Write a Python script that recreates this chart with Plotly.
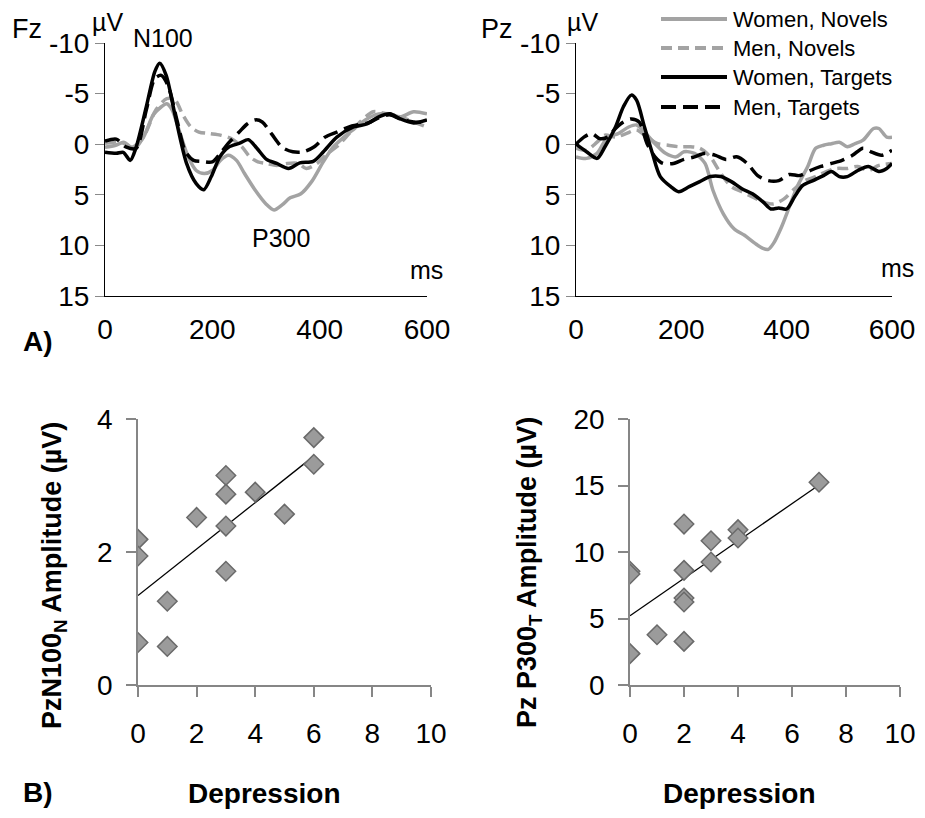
import numpy as np
import plotly.graph_objects as go

# page has an 8px body margin: figure is drawn 8px in from the top-left of the window
OFF = 8
FW, FH = 917, 802
FONT = "Liberation Sans, Arial, sans-serif"

# ---------------- ERP data (ms, µV) ----------------
fz_wt_t = [0,21,34,47,58,77,93,102,114,130,152,170,184,198,214,230,251,267,283,301,320,342,363,388,407,432,463,488,510,531,550,575,600]
fz_wt_v = [0.8,0.9,0.8,1.6,0.3,-3.7,-7.2,-8.0,-6.8,-3.0,1.9,3.9,4.5,3.2,1.25,0.3,-0.1,-0.45,0.4,1.5,1.9,2.4,1.85,1.7,0.75,-0.7,-1.7,-2.0,-2.7,-3.0,-2.5,-2.1,-2.4]

fz_mt_t = [0,21,40,58,77,93,105,118,134,150,165,180,200,215,230,250,265,280,293,310,330,350,370,390,410,432,460,490,510,530,550,575,600]
fz_mt_v = [-0.3,-0.5,0.3,0.4,-3.4,-6.5,-6.8,-5.7,-2.4,0.75,1.6,1.7,1.75,0.9,-0.1,-1.2,-2.0,-2.4,-2.2,-1.05,0.3,0.75,0.75,0.25,-0.7,-1.2,-1.8,-2.1,-2.6,-2.9,-2.5,-2.2,-2.2]

fz_wn_t = [0,20,35,50,70,90,105,115,125,140,155,170,185,200,215,230,245,260,280,300,315,330,345,365,385,405,425,445,465,485,510,530,550,575,600]
fz_wn_v = [0.3,0.1,-0.2,0.3,-0.55,-2.9,-3.7,-4.0,-3.4,-1.05,1.25,2.6,2.9,2.6,1.6,1.1,1.6,2.9,4.55,5.9,6.5,6.0,5.3,4.9,3.7,1.9,0.3,-0.7,-1.55,-2.4,-3.0,-3.0,-2.7,-3.2,-3.0]

fz_mn_t = [0,30,55,75,95,115,130,145,160,175,195,215,235,255,270,285,300,320,340,360,375,395,415,435,455,475,500,525,550,575,600]
fz_mn_v = [-0.1,-0.2,0.4,-1.05,-3.4,-4.5,-4.4,-2.9,-1.7,-1.2,-1.05,-0.9,-0.55,0.25,1.25,1.75,1.9,2.1,1.9,1.9,2.4,1.9,0.9,0.1,-1.05,-2.2,-3.2,-3.0,-2.7,-2.2,-1.7]

pz_wt_t = [0,20,40,55,75,90,105,115,130,145,160,180,195,215,235,255,275,295,315,335,355,370,385,400,415,430,450,470,485,500,515,535,555,575,590,600]
pz_wt_v = [0,0.75,1.4,0.25,-1.7,-3.7,-4.85,-4.35,-1.7,0.9,3.2,4.2,4.7,4.2,3.7,3.2,3.2,3.7,4.4,4.9,5.7,6.4,6.3,6.4,5.2,4.1,3.6,3.1,2.7,3.2,3.2,2.6,2.2,2.7,2.4,1.9]

pz_mt_t = [0,15,30,45,60,75,90,105,120,135,150,165,185,205,225,245,265,285,305,325,345,365,385,405,425,445,465,485,505,525,545,560,580,600]
pz_mt_v = [0,-0.7,-1.05,-0.55,-0.7,-1.55,-2.2,-2.5,-2.2,-0.05,1.25,1.9,1.9,1.5,1.25,0.9,1.1,1.5,1.25,1.9,3.1,3.6,3.6,3.0,3.1,2.6,2.2,1.9,1.6,1.1,0.4,0.75,1.1,0.6]

pz_wn_t = [0,20,40,60,80,100,115,130,150,170,190,205,225,245,260,280,300,320,340,355,365,375,390,405,420,440,455,470,485,500,515,530,545,565,575,590,600]
pz_wn_v = [1.25,1.4,0.9,-0.7,-1.05,-1.7,-1.9,-1.2,-0.05,0.9,1.25,0.75,0.9,1.9,4.55,6.9,8.35,9.0,9.8,10.3,10.4,9.8,8.2,6.2,4.2,2.2,0.4,0.1,-0.05,-0.2,0.25,-0.05,-0.4,-1.55,-1.55,-0.7,-0.7]

pz_mn_t = [0,20,40,55,75,95,115,135,155,175,195,215,235,255,275,295,315,335,355,375,395,415,435,455,475,495,515,535,555,575,600]
pz_mn_v = [0.4,0.6,-0.2,-0.9,-0.7,-1.05,-1.4,-0.7,-0.05,0.1,0.25,0.25,0.4,1.25,2.9,4.2,4.7,5.2,5.7,5.9,5.4,4.4,3.6,3.2,2.7,2.4,2.4,2.2,2.6,2.1,1.9]

erp_ticks = [-10, -5, 0, 5, 10, 15]
erp_ticktext = ["-10", "-5", "0", "5", "10", "15"]
ms_ticks = [0, 200, 400, 600]

series_names = ["Women, Novels", "Men, Novels", "Women, Targets", "Men, Targets"]

# ---------------- Scatter data ----------------
n100_dep = [0,0,0,1,1,2,3,3,3,3,4,5,6,6]
n100_amp = [2.19,1.94,0.64,1.26,0.58,2.52,3.15,2.87,2.39,1.71,2.90,2.57,3.72,3.32]
p300_dep = [0,0,0,1,2,2,2,2,2,3,3,4,4,7]
p300_amp = [8.55,8.35,2.36,3.78,12.1,8.62,6.54,6.24,3.28,10.85,9.25,11.68,11.05,15.24]
dep_ticks = [0,2,4,6,8,10]

# ---------------- styles ----------------
GRAY = "#a3a3a3"
styles = {
    "Women, Novels": dict(color=GRAY, width=3.5, dash="solid"),
    "Men, Novels": dict(color=GRAY, width=3.5, dash="11px,6px"),
    "Women, Targets": dict(color="black", width=3.5, dash="solid"),
    "Men, Targets": dict(color="black", width=3.5, dash="15px,7px"),
}

fig = go.Figure()

fz = {"Women, Novels": (fz_wn_t, fz_wn_v), "Men, Novels": (fz_mn_t, fz_mn_v),
      "Women, Targets": (fz_wt_t, fz_wt_v), "Men, Targets": (fz_mt_t, fz_mt_v)}
pz = {"Women, Novels": (pz_wn_t, pz_wn_v), "Men, Novels": (pz_mn_t, pz_mn_v),
      "Women, Targets": (pz_wt_t, pz_wt_v), "Men, Targets": (pz_mt_t, pz_mt_v)}

for name in series_names:
    t, v = fz[name]
    fig.add_trace(go.Scatter(x=t, y=v, mode="lines", name=name, showlegend=False,
                             line=dict(shape="spline", smoothing=0.8, **styles[name]),
                             xaxis="x", yaxis="y"))
for name in series_names:
    t, v = pz[name]
    fig.add_trace(go.Scatter(x=t, y=v, mode="lines", name=name, showlegend=False,
                             line=dict(shape="spline", smoothing=0.8, **styles[name]),
                             xaxis="x2", yaxis="y2"))

def add_scatter(dep, amp, xa, ya):
    slope, inter = np.polyfit(dep, amp, 1)
    xs = np.array([min(dep), max(dep)], dtype=float)
    fig.add_trace(go.Scatter(x=xs, y=inter + slope * xs, mode="lines", showlegend=False,
                             line=dict(color="black", width=1.3), xaxis=xa, yaxis=ya))
    fig.add_trace(go.Scatter(x=dep, y=amp, mode="markers", showlegend=False,
                             marker=dict(symbol="diamond", size=15, color="#9b9b9b",
                                         line=dict(color="#6a6a6a", width=1.5)),
                             xaxis=xa, yaxis=ya))

add_scatter(n100_dep, n100_amp, "x3", "y3")
add_scatter(p300_dep, p300_amp, "x4", "y4")

# window pixel -> paper fraction
def px(x):
    return (x - OFF) / FW

def py(y):
    return 1 - (y - OFF) / FH

def xdom(a, b):
    return [px(a), px(b)]

def ydom(top, bottom):
    return [py(bottom), py(top)]

tickfont = dict(family=FONT, size=28, color="black")

erp_x = dict(range=[0, 600], tickvals=ms_ticks, ticks="", showline=True, linecolor="black",
             linewidth=1, showgrid=False, zeroline=False, tickfont=tickfont,
             ticklabelstandoff=8, automargin=False)
erp_y = dict(range=[15, -10], tickvals=erp_ticks, ticktext=erp_ticktext, ticks="outside",
             ticklen=9, tickcolor="#8a8a8a", tickwidth=1.2, showline=True, linecolor="black",
             linewidth=1, showgrid=False, zeroline=False, tickfont=tickfont, automargin=False)

sc_x = dict(range=[0, 10], tickvals=dep_ticks, ticks="outside", ticklen=10, tickcolor="#868686",
            tickwidth=1.5, showline=True, linecolor="#868686", linewidth=1.5, showgrid=False,
            zeroline=False, tickfont=tickfont, ticklabelstandoff=13, automargin=False)
sc_y = dict(ticks="outside", ticklen=10, tickcolor="#868686", tickwidth=1.5, showline=True,
            linecolor="#868686", linewidth=1.5, showgrid=False, zeroline=False,
            tickfont=tickfont, ticklabelstandoff=8, automargin=False)

fig.update_layout(
    width=FW, height=FH, autosize=False,
    margin=dict(l=0, r=0, t=0, b=0, autoexpand=False),
    paper_bgcolor="white", plot_bgcolor="white",
    font=dict(family=FONT, color="black"),
    xaxis=dict(domain=xdom(105, 427), anchor="y", **erp_x),
    yaxis=dict(domain=ydom(43, 296), anchor="x", **erp_y),
    xaxis2=dict(domain=xdom(576, 892), anchor="y2", **erp_x),
    yaxis2=dict(domain=ydom(43, 296), anchor="x2", **erp_y),
    xaxis3=dict(domain=xdom(138, 431), anchor="y3", **sc_x),
    yaxis3=dict(domain=ydom(419, 685), anchor="x3", range=[0, 4], tickvals=[0, 2, 4], **sc_y),
    xaxis4=dict(domain=xdom(630, 900), anchor="y4", **sc_x),
    yaxis4=dict(domain=ydom(419, 685), anchor="x4", range=[0, 20], tickvals=[0, 5, 10, 15, 20], **sc_y),
)

annotations = []
def label(text, x, y, size, bold=False, angle=0, xanchor="center", yanchor="middle"):
    annotations.append(dict(text=("<b>%s</b>" % text) if bold else text, x=px(x), y=py(y),
                            xref="paper", yref="paper", showarrow=False, xanchor=xanchor,
                            yanchor=yanchor, textangle=angle, borderpad=0,
                            font=dict(family=FONT, size=size, color="black")))

label("Fz", 27, 29, 27)
label("µV", 107, 22, 25)
label("N100", 163, 38, 25)
label("P300", 281, 238, 25)
label("ms", 426, 270, 25)
label("Pz", 497, 29, 27)
label("µV", 582, 22, 25)
label("ms", 897, 268, 25)
label("A)", 38, 342, 28, bold=True)
label("B)", 38, 809, 28, bold=True, yanchor="bottom")
label("Depression", 264, 793, 28, bold=True)
label("Depression", 739, 793, 28, bold=True)
label("PzN100<sub>N</sub> Amplitude (µV)", 54, 576, 27, bold=True, angle=-90)
label("Pz P300<sub>T</sub> Amplitude (µV)", 529, 573, 27, bold=True, angle=-90)

# manual legend (line samples + text) in the top-right panel
legend_rows = [19, 48, 77, 107]
shapes = []
for name, yrow in zip(series_names, legend_rows):
    st = styles[name]
    shapes.append(dict(type="line", xref="paper", yref="paper", x0=px(661), x1=px(727),
                       y0=py(yrow), y1=py(yrow),
                       line=dict(color=st["color"], width=st["width"] + 0.5, dash=st["dash"])))
    label(name, 732, yrow + (1 if yrow < 25 else 0), 22, xanchor="left")

fig.update_layout(annotations=annotations, shapes=shapes)
fig.write_html("out.html")
